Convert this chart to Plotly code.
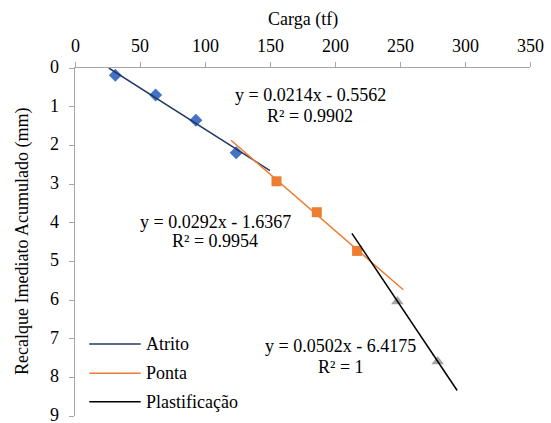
import plotly.graph_objects as go

# ---- data ----
atrito_x = [31, 62, 93, 124]
atrito_y = [0.19, 0.70, 1.35, 2.19]
ponta_x = [155, 186, 217]
ponta_y = [2.93, 3.73, 4.73]
plast_x = [248, 279]
plast_y = [6.04, 7.59]

# trendlines: coefficients as printed on the chart, and their drawn extent
trend_names = ["Atrito", "Ponta", "Plastificação"]
trend_slope = [0.0214, 0.0292, 0.0502]
trend_inter = [-0.5562, -1.6367, -6.4175]
trend_from = [26, 120, 213]
trend_to = [150, 252.5, 294]
eq_labels = ["y = 0.0214x - 0.5562", "y = 0.0292x - 1.6367", "y = 0.0502x - 6.4175"]
r2_labels = ["R² = 0.9902", "R² = 0.9954", "R² = 1"]
label_x = [181, 108, 204.5]
label_y = [0.69, 3.97, 7.19]
label_y2 = [1.23, 4.47, 7.72]

x_ticks = [0, 50, 100, 150, 200, 250, 300, 350]
y_ticks = [0, 1, 2, 3, 4, 5, 6, 7, 8, 9]
x_title = "Carga (tf)"
y_title = "Recalque Imediato Acumulado (mm)"

FONT = "Liberation Serif"
FS = 18
line_colors = ["#1F3864", "#ED7D31", "#000000"]
AX = "#A6A6A6"

fig = go.Figure()
fig.add_trace(go.Scatter(x=atrito_x, y=atrito_y, mode="markers", showlegend=False,
                         marker=dict(symbol="diamond", size=10, color="#4472C4")))
fig.add_trace(go.Scatter(x=ponta_x, y=ponta_y, mode="markers", showlegend=False,
                         marker=dict(symbol="square", size=10, color="#ED7D31")))
fig.add_trace(go.Scatter(x=plast_x, y=plast_y, mode="markers", showlegend=False,
                         marker=dict(symbol="triangle-up", size=11, color="#A5A5A5")))
for name, m, b, x0, x1, c in zip(trend_names, trend_slope, trend_inter,
                                 trend_from, trend_to, line_colors):
    xs = [x0, x1]
    ys = [m * v + b for v in xs]
    fig.add_trace(go.Scatter(x=xs, y=ys, mode="lines", name=name, showlegend=False,
                             line=dict(color=c, width=1.5)))

def txt(**kw):
    kw.setdefault("showarrow", False)
    kw.setdefault("font", dict(family=FONT, size=FS, color="#000"))
    fig.add_annotation(**kw)

# trendline equations
for e, r, lx, ly, ly2 in zip(eq_labels, r2_labels, label_x, label_y, label_y2):
    txt(x=lx, y=ly, xref="x", yref="y", text=e)
    txt(x=lx, y=ly2, xref="x", yref="y", text=r)

# tick labels (text drawn as annotations)
for v in x_ticks:
    txt(x=v, y=1, xref="x", yref="paper", text=str(v), yanchor="middle", yshift=22)
for v in y_ticks:
    txt(x=0, y=v, xref="paper", yref="y", text=str(v), xanchor="right", xshift=-14,
        height=14, yshift=1)

# axis titles
txt(x=0.5, y=1, xref="paper", yref="paper", text=x_title, yanchor="middle", yshift=49)
txt(x=0, y=0.5, xref="paper", yref="paper", text=y_title, textangle=-90,
    xanchor="center", yanchor="middle", xshift=-53)

# legend (lines + labels) in the lower left
leg_y = [0.207, 0.123, 0.041]
for name, c, ly in zip(trend_names, line_colors, leg_y):
    fig.add_shape(type="line", xref="paper", yref="paper", x0=0.0314, x1=0.1444,
                  y0=ly, y1=ly, line=dict(color=c, width=1.5))
    txt(x=0.1444, y=ly, xref="paper", yref="paper", text=name, xanchor="left",
        yanchor="middle", xshift=3)

axis_common = dict(showline=True, linecolor=AX, linewidth=1,
                   ticks="outside", ticklen=5, tickcolor=AX,
                   showgrid=False, zeroline=False, showticklabels=False)
fig.update_xaxes(range=[0, 350], side="top", tickvals=x_ticks, **axis_common)
fig.update_yaxes(range=[9, 0], tickvals=y_ticks, **axis_common)

fig.update_layout(
    width=551, height=423,
    margin=dict(l=75, r=21, t=68, b=7),
    paper_bgcolor="white", plot_bgcolor="white",
    font=dict(family=FONT, size=FS, color="#000"),
    showlegend=False,
)

fig.write_html("out.html")
